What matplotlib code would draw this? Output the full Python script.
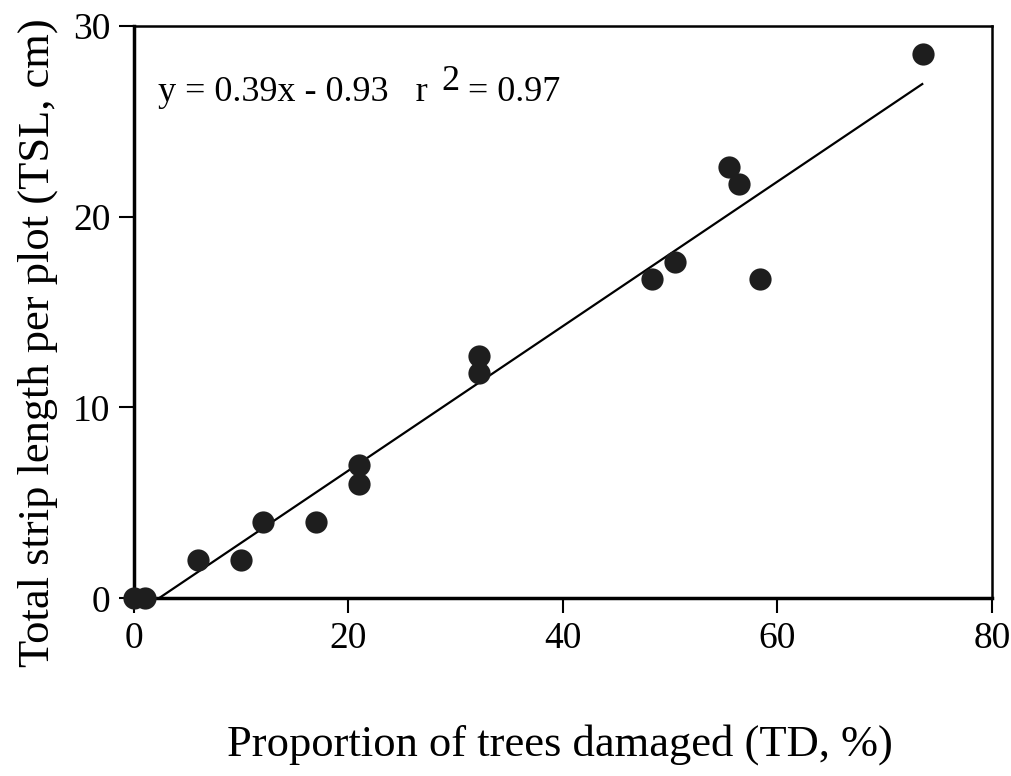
import numpy as np
import matplotlib.pyplot as plt

# proportion of trees damaged (TD, %) vs total strip length (TSL, cm)
td = [0, 1, 6, 10, 12, 17, 21, 21, 32.2, 32.2, 48.3, 50.4, 55.5, 56.4, 58.4, 73.6]
tsl = [0, 0, 2, 2, 4, 4, 7, 6, 12.7, 11.8, 16.7, 17.6, 22.6, 21.7, 16.7, 28.5]

# regression line drawn over the damaged range
slope, intercept = np.polyfit(td, tsl, 1)
fit_x = np.array([-intercept / slope, 73.5])

plt.rcParams['font.family'] = ['Liberation Serif', 'DejaVu Serif']

fig = plt.figure(figsize=(10.12, 7.76), dpi=100)
ax = fig.add_axes([0.1324, 0.229, 0.8478, 0.738])

ax.scatter(td, tsl, s=16**2, color='#1e1e1e', zorder=3, linewidths=0,
           clip_on=False)
ax.plot(fit_x, slope*fit_x + intercept, color='black', lw=1.6)

t1 = ax.text(2.25, 26.05, 'y = 0.39x - 0.93   r ', fontsize=26, va='baseline')
t2 = ax.annotate('2', xy=(1, 0), xycoords=t1, xytext=(3, 8),
                 textcoords='offset points', fontsize=26, va='bottom')
ax.annotate(' = 0.97', xy=(1, 0), xycoords=t2, xytext=(0, -8),
            textcoords='offset points', fontsize=26, va='bottom')

ax.set_xlim(0, 80)
ax.set_ylim(0, 30)
ax.set_xticks([0, 20, 40, 60, 80])
ax.set_yticks([0, 10, 20, 30])
ax.tick_params(labelsize=27, length=11, width=1.5, direction='out', pad=6)
for s in ax.spines.values():
    s.set_linewidth(1.8)
ax.spines['left'].set_linewidth(2.5)
ax.spines['bottom'].set_linewidth(2.5)

fig.text(0.553, 0.04, 'Proportion of trees damaged (TD, %)', fontsize=32,
         ha='center', va='center')
fig.text(0.037, 0.559, 'Total strip length per plot (TSL, cm)', fontsize=32,
         ha='center', va='center', rotation=90)

fig.savefig('out.png', dpi=100)
